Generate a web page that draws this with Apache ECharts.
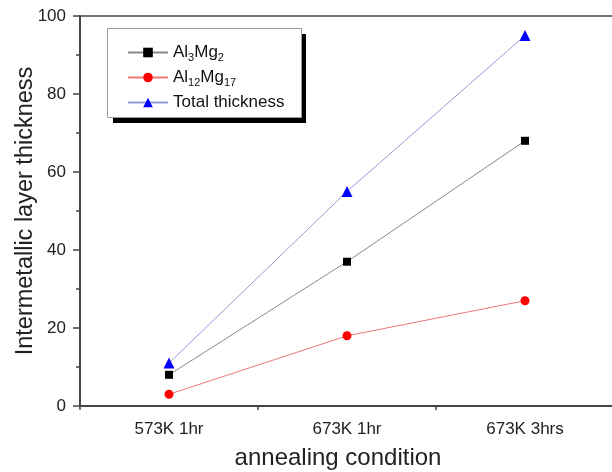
<!DOCTYPE html>
<html>
<head>
<meta charset="utf-8">
<script src="https://cdn.jsdelivr.net/npm/echarts@6/dist/echarts.min.js"></script>
<style>
  html, body { margin: 0; padding: 0; background: #fff; }
  #chart { width: 612px; height: 472px; }
</style>
</head>
<body>
<div id="chart"></div>
<script>
const conditions = ['573K 1hr', '673K 1hr', '673K 3hrs']
const al3mg2 = [8, 37, 68]
const al12mg17 = [3, 18, 27]
const total = [11, 55, 95]

const FONT = 'Liberation Sans, Arial, sans-serif'

const chart = echarts.init(document.getElementById('chart'))

chart.setOption({
  animation: false,
  textStyle: { fontFamily: FONT },
  grid: {
    left: 80, right: -2, top: 16, bottom: 66,
    outerBoundsMode: 'none',
    show: true, borderColor: '#444', borderWidth: 1.5
  },
  // legend frame with its black drop shadow
  graphic: [
    {
      type: 'rect', left: 113, top: 34, z: 100,
      shape: { width: 193, height: 89 },
      style: { fill: '#000' }
    },
    {
      type: 'rect', left: 107, top: 28, z: 101,
      shape: { width: 194, height: 89 },
      style: { fill: '#fff', stroke: '#999', lineWidth: 1 }
    }
  ],
  legend: {
    orient: 'vertical',
    left: 127, top: 44,
    z: 110,
    padding: 0,
    itemGap: 6,
    itemWidth: 40, itemHeight: 12,
    data: ['Al3Mg2', 'Al12Mg17', 'Total thickness'],
    formatter: name => {
      if (name === 'Al3Mg2') return '{t|Al}{s|3}{t|Mg}{s|2}'
      if (name === 'Al12Mg17') return '{t|Al}{s|12}{t|Mg}{s|17}'
      return '{t|Total thickness}'
    },
    textStyle: {
      color: '#111', fontSize: 17, fontFamily: FONT,
      rich: {
        t: { fontSize: 17, color: '#111', height: 19 },
        s: { fontSize: 11, color: '#111', padding: [10, 0, 0, 0] }
      }
    }
  },
  xAxis: [
    {
      type: 'category',
      data: conditions,
      name: 'annealing condition',
      nameLocation: 'middle',
      nameGap: 40,
      nameMoveOverlap: false,
      nameTextStyle: { fontSize: 24, color: '#222', padding: [0, 18, 0, 0] },
      axisLine: { lineStyle: { color: '#444', width: 1.8 } },
      axisTick: { alignWithLabel: true, length: 7, lineStyle: { color: '#444', width: 1.5 } },
      axisLabel: { fontSize: 17, color: '#222', margin: 15 }
    },
    {
      // half-step ticks between conditions
      type: 'value',
      position: 'bottom',
      min: 0, max: 3, interval: 1,
      axisLine: { show: false },
      axisTick: { show: true, length: 4, lineStyle: { color: '#444', width: 1.5 } },
      axisLabel: { show: false },
      splitLine: { show: false }
    }
  ],
  yAxis: {
    type: 'value',
    min: 0, max: 100, interval: 20,
    name: 'Intermetallic layer thickness',
    nameLocation: 'middle',
    nameGap: 42,
    nameMoveOverlap: false,
    nameTextStyle: { fontSize: 23.5, color: '#222' },
    axisLine: { show: true, lineStyle: { color: '#444', width: 1.8 } },
    axisTick: { show: true, length: 7, lineStyle: { color: '#444', width: 1.5 } },
    minorTick: { show: true, splitNumber: 2, length: 4, lineStyle: { color: '#444', width: 1.5 } },
    axisLabel: { fontSize: 17, color: '#222', margin: 14 },
    splitLine: { show: false }
  },
  series: [
    {
      name: 'Al3Mg2', type: 'line', data: al3mg2,
      symbol: 'rect', symbolSize: 8,
      itemStyle: { color: '#000' },
      lineStyle: { color: '#888', width: 1 }
    },
    {
      name: 'Al12Mg17', type: 'line', data: al12mg17,
      symbol: 'circle', symbolSize: 9,
      itemStyle: { color: '#f00' },
      lineStyle: { color: '#e87878', width: 1 }
    },
    {
      name: 'Total thickness', type: 'line', data: total,
      symbol: 'triangle', symbolSize: 11,
      itemStyle: { color: '#00f' },
      lineStyle: { color: '#9a9ad8', width: 1 }
    }
  ]
})
</script>
</body>
</html>
